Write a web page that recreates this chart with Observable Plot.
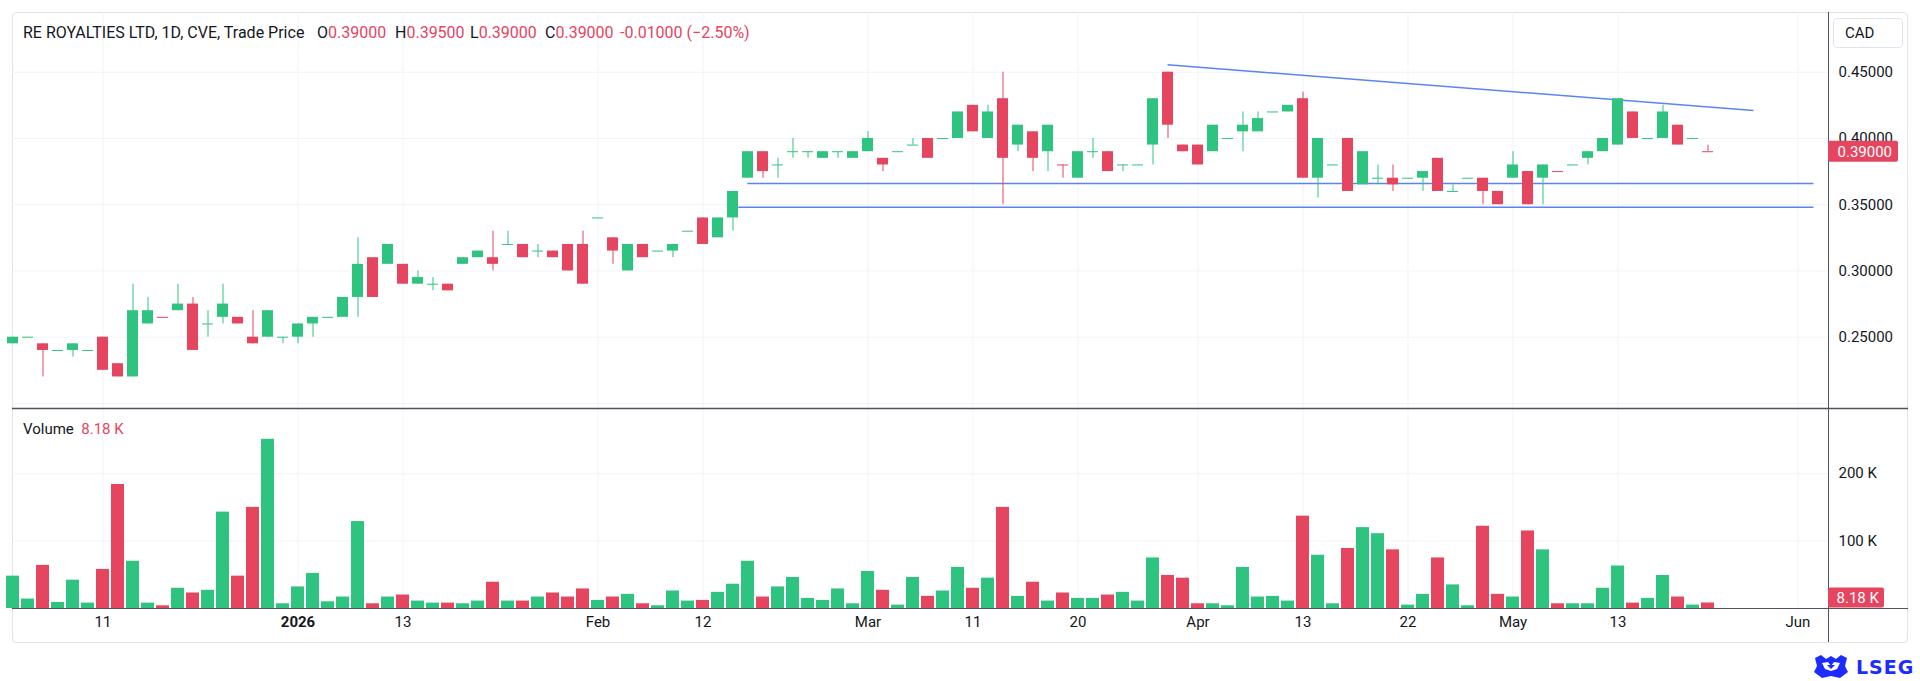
<!DOCTYPE html>
<html>
<head>
<meta charset="utf-8">
<script src="https://cdn.jsdelivr.net/npm/d3@7"></script>
<script src="https://cdn.jsdelivr.net/npm/@observablehq/plot@0.6"></script>
<style>
  html, body { margin: 0; padding: 0; background: #ffffff; }
  body { font-family: Roboto, "Liberation Sans", Arial, sans-serif; color: #131722; }
  #wrap { position: relative; width: 1920px; height: 681px; overflow: hidden; }
  .frame { position: absolute; left: 12px; top: 12px; width: 1896px; height: 631px; box-sizing: border-box;
           border: 1px solid #e0e3eb; border-radius: 4px; }
  .abs { position: absolute; white-space: nowrap; }
  .hdr { font-size: 16px; line-height: 20px; top: 23px; }
  .vlab { font-size: 15px; line-height: 20px; top: 419px; left: 23px; }
  .red { color: #e5455f; }
  .cad { left: 1833px; top: 18px; width: 70px; height: 30px; box-sizing: border-box; border: 1px solid #e0e3eb;
         border-radius: 4px; font-size: 15px; line-height: 28px; padding-left: 11px; }
  .lseg { left: 1812px; top: 654px; font-family: "DejaVu Sans", sans-serif; font-weight: bold; font-size: 19px;
          color: #1b2cff; letter-spacing: 1px; display: flex; align-items: center; }
</style>
</head>
<body>
<div id="wrap">
  <div class="frame"></div>
  <div id="price" class="abs" style="left:12px;top:12px"></div>
  <div id="volume" class="abs" style="left:12px;top:408px"></div>
  <div id="header"></div>
  <div class="abs cad">CAD</div>
  <div id="vlabel"></div>
  <div class="abs lseg">
    <svg width="38" height="26" viewBox="0 0 38 26">
      <path d="M3 4 L9 1 L14 5 L19 2 L24 5 L29 1 L35 4 L33 12 L36 18 L28 24 L19 22 L10 24 L2 18 L5 12 Z" fill="#1b2cff"/>
      <path d="M10 9 L16 8 L19 12 L22 8 L28 9 L25 15 L19 17 L13 15 Z" fill="#ffffff"/>
      <path d="M15 11 L23 11 L19 15 Z" fill="#1b2cff"/>
    </svg>
    <span style="margin-left:6px">LSEG</span>
  </div>
</div>
<script>
// ---------- data ----------
const opens = [0.245,0.25,0.245,0.24,0.24,0.24,0.25,0.23,0.22,0.26,0.265,0.27,0.275,0.26,0.265,0.265,0.25,0.25,0.25,0.25,
  0.26,0.265,0.265,0.28,0.31,0.305,0.305,0.29,0.29,0.29,0.305,0.31,0.31,0.32,0.32,0.315,0.315,0.32,0.32,0.34,
  0.325,0.30,0.32,0.315,0.315,0.33,0.34,0.325,0.34,0.37,0.39,0.38,0.39,0.39,0.385,0.39,0.385,0.39,0.385,0.39,
  0.395,0.40,0.40,0.40,0.425,0.40,0.43,0.395,0.405,0.39,0.38,0.37,0.39,0.39,0.38,0.38,0.395,0.45,0.395,0.395,
  0.39,0.40,0.405,0.405,0.42,0.42,0.43,0.37,0.38,0.40,0.365,0.37,0.37,0.37,0.37,0.385,0.36,0.37,0.37,0.36,
  0.37,0.375,0.37,0.375,0.38,0.385,0.39,0.395,0.42,0.40,0.40,0.41,0.40,0.39];
const highs = [0.25,0.25,0.245,0.24,0.245,0.24,0.25,0.23,0.29,0.28,0.265,0.29,0.28,0.27,0.29,0.265,0.27,0.27,0.25,0.26,
  0.265,0.265,0.28,0.325,0.31,0.32,0.305,0.30,0.295,0.29,0.31,0.315,0.33,0.33,0.32,0.32,0.315,0.32,0.33,0.34,
  0.325,0.32,0.32,0.315,0.32,0.33,0.34,0.34,0.36,0.39,0.39,0.385,0.40,0.39,0.39,0.39,0.39,0.405,0.385,0.39,
  0.40,0.40,0.40,0.42,0.425,0.425,0.45,0.41,0.405,0.41,0.38,0.39,0.40,0.39,0.38,0.38,0.43,0.45,0.395,0.395,
  0.41,0.40,0.42,0.42,0.42,0.425,0.435,0.40,0.38,0.40,0.39,0.38,0.38,0.37,0.375,0.385,0.365,0.37,0.37,0.36,
  0.39,0.375,0.38,0.375,0.38,0.39,0.40,0.43,0.42,0.40,0.425,0.41,0.40,0.395];
const lows = [0.245,0.25,0.22,0.24,0.235,0.24,0.225,0.22,0.22,0.26,0.265,0.27,0.24,0.25,0.26,0.26,0.245,0.25,0.245,0.245,
  0.25,0.265,0.265,0.265,0.28,0.305,0.29,0.29,0.285,0.285,0.305,0.31,0.30,0.32,0.31,0.31,0.31,0.30,0.29,0.34,
  0.305,0.30,0.31,0.315,0.31,0.33,0.32,0.325,0.33,0.37,0.37,0.37,0.385,0.385,0.385,0.385,0.385,0.39,0.375,0.39,
  0.395,0.385,0.40,0.40,0.405,0.40,0.35,0.39,0.375,0.375,0.37,0.37,0.385,0.375,0.375,0.38,0.38,0.40,0.39,0.38,
  0.39,0.40,0.39,0.405,0.42,0.42,0.37,0.355,0.38,0.36,0.365,0.365,0.36,0.37,0.36,0.36,0.36,0.37,0.35,0.35,
  0.37,0.35,0.35,0.375,0.38,0.38,0.39,0.395,0.40,0.40,0.40,0.395,0.40,0.39];
const closes = [0.25,0.25,0.24,0.24,0.245,0.24,0.225,0.22,0.27,0.27,0.265,0.275,0.24,0.26,0.275,0.26,0.245,0.27,0.25,0.26,
  0.265,0.265,0.28,0.305,0.28,0.32,0.29,0.295,0.29,0.285,0.31,0.315,0.305,0.32,0.31,0.315,0.31,0.30,0.29,0.34,
  0.315,0.32,0.31,0.315,0.32,0.33,0.32,0.34,0.36,0.39,0.375,0.38,0.39,0.39,0.39,0.39,0.39,0.40,0.38,0.39,
  0.395,0.385,0.40,0.42,0.405,0.42,0.385,0.41,0.385,0.41,0.38,0.39,0.39,0.375,0.38,0.38,0.43,0.41,0.39,0.38,
  0.41,0.40,0.41,0.415,0.42,0.425,0.37,0.40,0.38,0.36,0.39,0.37,0.365,0.37,0.375,0.36,0.36,0.37,0.36,0.35,
  0.38,0.35,0.38,0.375,0.38,0.39,0.40,0.43,0.40,0.40,0.42,0.395,0.40,0.39];
// volume in thousands
const volumes = [48,14,64,9,42,8,58,184,70,8,4,30,23,27,143,48,150,251,7,32,
  52,10,17,129,7,17,20,11,8,8,7,11,39,11,11,17,23,17,29,12,
  17,21,7,4,26,11,12,24,36,70,17,32,46,15,12,29,7,55,27,5,
  46,18,26,61,30,45,150,18,39,11,23,15,15,20,24,11,75,49,45,7,
  7,4,61,17,18,11,137,79,7,89,120,111,87,5,21,75,35,4,122,21,
  17,115,87,7,7,7,30,63,8,15,49,17,5,8.18];
// unchanged-price sessions that closed below the previous close
const flatDown = [10, 70, 103, 113];
// x-axis ticks (bar index) and their labels
const tickBars   = [6, 19, 26, 39, 46, 57, 64, 71, 79, 86, 93, 100, 107, 119];
const tickLabels = ["11", "2026", "13", "Feb", "12", "Mar", "11", "20", "Apr", "13", "22", "May", "13", "Jun"];
const boldTicks  = ["2026"];
const priceTicks = [0.25, 0.30, 0.35, 0.40, 0.45];
const priceGrid  = [0.20, 0.25, 0.30, 0.35, 0.40, 0.45];
const volumeTicks = [100, 200];
// drawn trend lines: [startBar, startPrice, endBar, endPrice]
const trendStart = [[76.97, 0.4556], [48.95, 0.366], [48.35, 0.348]];
const trendEnd   = [[116.03, 0.4211], [120.03, 0.366], [120.03, 0.348]];
const title = "RE ROYALTIES LTD, 1D, CVE, Trade Price";
const currency = "CAD";

// ---------- build ----------
const UP = "#2ec480", DOWN = "#e5455f", GRID = "#f0f3fa", AXIS = "#50535e";
const FONT = "Roboto, 'Liberation Sans', Arial, sans-serif";
const bars = opens.map((o, i) => {
  const c = closes[i];
  const up = c > o || (c === o && !flatDown.includes(i));
  return {i, o, h: highs[i], l: lows[i], c, v: volumes[i], up};
});
const upBars = bars.filter(d => d.up), downBars = bars.filter(d => !d.up);
const trends = trendStart.map((s, k) => ({x1: s[0], y1: s[1], x2: trendEnd[k][0], y2: trendEnd[k][1]}));

const W = 1896, MR = 80;
const plotW = W - MR;                // 1816 px of bar area
const barPx = 15;
const xDomain = [-0.5 / barPx, (plotW - 0.5) / barPx];
const xEdge = (W - 0.5) / barPx;      // right edge of the frame in bar units
const bodyHalf = 5.5 / barPx, volHalf = 6.5 / barPx;

const PH = 396;
const yDomain = [0.19619, 0.49506];
const pricePerPx = (yDomain[1] - yDomain[0]) / PH;
const fmt5 = d3.format(".5f");

const last = bars[bars.length - 1], prev = bars[bars.length - 2];
const lastColor = last.up ? UP : DOWN;

const price = Plot.plot({
  width: W, height: PH, marginLeft: 0, marginRight: MR, marginTop: 0, marginBottom: 0,
  x: {domain: xDomain, axis: null},
  y: {domain: yDomain, axis: null},
  style: {fontFamily: FONT, fontSize: "15px", color: "#131722", background: "transparent", overflow: "visible"},
  marks: [
    Plot.ruleX(tickBars, {stroke: GRID, strokeWidth: 1}),
    Plot.ruleY(priceGrid, {x1: xDomain[0], x2: xDomain[1], stroke: GRID, strokeWidth: 1}),
    Plot.link(trends, {x1: "x1", y1: "y1", x2: "x2", y2: "y2", stroke: "#5a84f1", strokeWidth: 1.5}),
    Plot.ruleX(upBars, {x: "i", y1: "l", y2: "h", stroke: UP, strokeWidth: 1}),
    Plot.ruleX(downBars, {x: "i", y1: "l", y2: "h", stroke: DOWN, strokeWidth: 1}),
    Plot.rect(upBars, {x1: d => d.i - bodyHalf, x2: d => d.i + bodyHalf, y1: "o", y2: "c", fill: UP}),
    Plot.rect(downBars, {x1: d => d.i - bodyHalf, x2: d => d.i + bodyHalf, y1: "o", y2: "c", fill: DOWN}),
    Plot.ruleY(upBars.filter(d => d.o === d.c), {y: "o", x1: d => d.i - bodyHalf, x2: d => d.i + bodyHalf, stroke: UP, strokeWidth: 1}),
    Plot.ruleY(downBars.filter(d => d.o === d.c), {y: "o", x1: d => d.i - bodyHalf, x2: d => d.i + bodyHalf, stroke: DOWN, strokeWidth: 1}),
    Plot.axisY(priceTicks, {anchor: "right", label: null, tickSize: 0, tickPadding: 10, tickFormat: fmt5, fontSize: 15, fill: "#131722"}),
    Plot.ruleX([xDomain[1]], {y1: yDomain[0], y2: yDomain[1], stroke: AXIS, strokeWidth: 1}),
    Plot.rect([last], {x1: xDomain[1], x2: xDomain[1] + 70 / barPx,
      y1: d => d.c - 10.5 * pricePerPx, y2: d => d.c + 10.5 * pricePerPx, fill: lastColor, rx: 2}),
    Plot.text([last], {x: xDomain[1], y: "c", text: d => fmt5(d.c), dx: 9, textAnchor: "start",
      fill: "#ffffff", fontSize: 15})
  ]
});
document.getElementById("price").appendChild(price);

const VH = 234, VMB = 34;
const vDomain = [0, 296.7];
const volPerPx = (vDomain[1] - vDomain[0]) / (VH - VMB);
const volume = Plot.plot({
  width: W, height: VH, marginLeft: 0, marginRight: MR, marginTop: 0, marginBottom: VMB,
  x: {domain: xDomain, axis: null},
  y: {domain: vDomain, axis: null},
  style: {fontFamily: FONT, fontSize: "15px", color: "#131722", background: "transparent", overflow: "visible"},
  marks: [
    Plot.ruleX(tickBars, {y1: vDomain[0], y2: vDomain[1], stroke: GRID, strokeWidth: 1}),
    Plot.ruleY(volumeTicks, {x1: xDomain[0], x2: xDomain[1], stroke: GRID, strokeWidth: 1}),
    Plot.rect(upBars, {x1: d => d.i - volHalf, x2: d => d.i + volHalf, y1: 0, y2: "v", fill: UP}),
    Plot.rect(downBars, {x1: d => d.i - volHalf, x2: d => d.i + volHalf, y1: 0, y2: "v", fill: DOWN}),
    Plot.axisY(volumeTicks, {anchor: "right", label: null, tickSize: 0, tickPadding: 10, tickFormat: d => d + " K", fontSize: 15, fill: "#131722"}),
    Plot.axisX(tickBars.filter((t, k) => !boldTicks.includes(tickLabels[k])),
      {anchor: "bottom", label: null, tickSize: 0, tickPadding: 8, fontSize: 15, fill: "#131722",
       tickFormat: t => tickLabels[tickBars.indexOf(t)]}),
    Plot.axisX(tickBars.filter((t, k) => boldTicks.includes(tickLabels[k])),
      {anchor: "bottom", label: null, tickSize: 0, tickPadding: 8, fontSize: 15, fill: "#131722", fontWeight: "bold",
       tickFormat: t => tickLabels[tickBars.indexOf(t)]}),
    // pane separator, time axis line and price axis line
    Plot.ruleY([vDomain[1]], {x1: xDomain[0], x2: xEdge, stroke: AXIS, strokeWidth: 1.5}),
    Plot.ruleY([0], {x1: xDomain[0], x2: xEdge, stroke: AXIS, strokeWidth: 1.2}),
    Plot.ruleX([xDomain[1]], {y1: -VMB * volPerPx, y2: vDomain[1], stroke: AXIS, strokeWidth: 1}),
    Plot.rect([last], {x1: xDomain[1], x2: xDomain[1] + 56 / barPx,
      y1: 0.5 * volPerPx, y2: 20.5 * volPerPx, fill: lastColor, rx: 2}),
    Plot.text([last], {x: xDomain[1], y: 10.5 * volPerPx, text: d => d3.format(".2f")(d.v) + " K", dx: 8,
      textAnchor: "start", fill: "#ffffff", fontSize: 15})
  ]
});
document.getElementById("volume").appendChild(volume);

// ---------- header texts ----------
const chg = last.c - prev.c;
const pct = chg / prev.c * 100;
const hdr = document.getElementById("header");
const parts = [
  {left: 23, html: title},
  {left: 317, html: `O<span class="red">${fmt5(last.o)}</span>`},
  {left: 395, html: `H<span class="red">${fmt5(last.h)}</span>`},
  {left: 470, html: `L<span class="red">${fmt5(last.l)}</span>`},
  {left: 545, html: `C<span class="red">${fmt5(last.c)}</span>`},
  {left: 620, html: `<span class="red">${(chg < 0 ? "-" : "+") + fmt5(Math.abs(chg))} (${(pct < 0 ? "\u2212" : "+") + Math.abs(pct).toFixed(2)}%)</span>`}
];
for (const p of parts) {
  const d = document.createElement("div");
  d.className = "abs hdr";
  d.style.left = p.left + "px";
  d.innerHTML = p.html;
  hdr.appendChild(d);
}
const vl = document.createElement("div");
vl.className = "abs vlab";
vl.innerHTML = `Volume&nbsp;&nbsp;<span class="red">${d3.format(".2f")(last.v)} K</span>`;
document.getElementById("vlabel").appendChild(vl);
</script>
</body>
</html>
